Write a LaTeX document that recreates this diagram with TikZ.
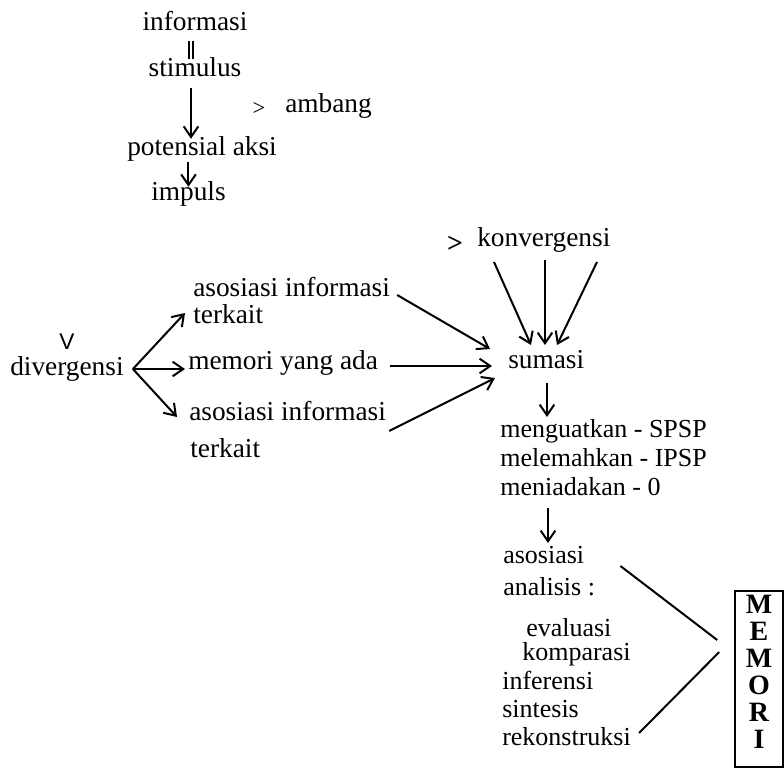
\documentclass[tikz,border=0pt]{standalone}
\usepackage{fontspec}
\setmainfont{Liberation Serif}
\newfontfamily\symfont{Liberation Sans}
\usetikzlibrary{positioning, calc, arrows.meta}

\begin{document}
\begin{tikzpicture}[x=0.75pt, y=-0.75pt]
    \tikzset{
        word/.style={inner sep=0pt, anchor=base west, font=\fontsize{20.5}{24}\selectfont},
        wordr/.style={inner sep=0pt, anchor=base west, font=\fontsize{19.5}{23}\selectfont},
        flow/.style={-{Straight Barb[length=8pt, width=11pt]}, line width=1.5pt},
        link/.style={line width=1.5pt},
        memori box/.style={
                draw, line width=1.2pt, inner sep=0pt,
                minimum width=36pt, minimum height=132pt, text depth=11pt,
                align=center, font=\fontsize{21}{20.25}\selectfont\bfseries
            }
    }
    \useasboundingbox (0,0) rectangle (784,770);

    % rantai stimulus
    \node[word, anchor=base] (informasi) at (195,31) {informasi};
    \node[word, anchor=base] (stimulus) at (195,77) {stimulus};
    \node[word] (potensial) at (127,156) {potensial aksi};
    \node[word] (impuls) at (151,200) {impuls};
    \node[inner sep=0pt, font=\fontsize{17}{17}\selectfont] (lebih) at (259,109) {>};
    \node[word] (ambang) at (285,113) {ambang};

    \draw[double, line width=1.2pt, double distance=1.5pt, shorten <=7pt, shorten >=-1pt]
    ([xshift=-3pt]informasi.south) -- ([xshift=-3pt]stimulus.north);
    \draw[flow, shorten <=8pt, shorten >=-1.5pt]
    ([xshift=-3pt]stimulus.south) -- ([xshift=-3pt]stimulus.south |- potensial.north);
    \draw[flow, shorten >=-4.5pt] (impuls.north |- potensial.south) -- (impuls.north);

    % divergensi
    \node[word] (divergensi) at (10,375) {divergensi};
    \node[inner sep=0pt, font=\symfont\fontsize{17}{17}\selectfont] (tanda) at (67,342) {V};
    \node[word] (asosA) at (193,296) {asosiasi informasi};
    \node[word] (terkaitA) at (193,323) {terkait};
    \node[word] (memori) at (188,369) {memori yang ada};
    \node[word] (asosB) at (189,420) {asosiasi informasi};
    \node[word] (terkaitB) at (190,457) {terkait};
    \coordinate (cabang) at ($(divergensi.base east)+(9,-6)$);
    \draw[flow] (cabang) -- ($(terkaitA.base west)+(-8,-10)$);
    \draw[flow] (cabang) -- ($(memori.base west)+(-3,0)$);
    \draw[flow] (cabang) -- ($(asosB.base west)+(-12,-3)$);

    % konvergensi dan sumasi
    \node[word] (sumasi) at (508,368) {sumasi};
    \node[word] (konvergensi) at (477,246) {konvergensi};
    \node[inner sep=0pt, font=\fontsize{21}{21}\selectfont\bfseries] (lebihK) at (455,244) {>};
    \draw[flow] ($(asosA.base east)+(7,-1)$) -- ($(sumasi.base west)+(-18,-19)$);
    \draw[flow] ($(memori.base east)+(12,-3)$) -- ($(sumasi.base west)+(-16,-2)$);
    \draw[flow] ($(asosB.base east)+(3,11)$) -- ($(sumasi.base west)+(-13,10)$);
    \draw[flow] ($(konvergensi.base west)+(17,16)$) -- ($(sumasi.base west)+(23,-23)$);
    \draw[flow] ($(konvergensi.base west)+(68,14)$) -- ($(sumasi.base west)+(37,-23)$);
    \draw[flow] ($(konvergensi.base west)+(120,16)$) -- ($(sumasi.base west)+(49,-23)$);

    % hasil sumasi
    \node[wordr] (kuat) at (500,437) {menguatkan - SPSP};
    \node[wordr] (lemah) at (500,466) {melemahkan - IPSP};
    \node[wordr] (tiada) at (500,495) {meniadakan - 0};
    \draw[flow] ($(sumasi.base west)+(39,15)$) -- ($(kuat.base west)+(47,-20)$);

    % asosiasi ke memori
    \node[wordr] (asosiasi) at (503,563) {asosiasi};
    \node[wordr] (analisis) at (503,595) {analisis :};
    \node[wordr] (evaluasi) at (526,636) {evaluasi};
    \node[wordr] (komparasi) at (522,660) {komparasi};
    \node[wordr] (inferensi) at (502,689) {inferensi};
    \node[wordr] (sintesis) at (502,717) {sintesis};
    \node[wordr] (rekonstruksi) at (502,745) {rekonstruksi};
    \draw[flow] ($(tiada.base west)+(48,13)$) -- ($(asosiasi.base west)+(45,-20)$);

    \node[memori box] (memoriBox) at (759,679) {M\\E\\M\\O\\R\\I};
    \coordinate (ujungA) at ($(memoriBox.west)+(-17,-39)$);
    \coordinate (ujungB) at ($(memoriBox.west)+(-15,-27)$);
    \draw[link] ($(asosiasi.base east)+(36,3)$) -- (ujungA);
    \draw[link] ($(rekonstruksi.base east)+(8,-12)$) -- (ujungB);
\end{tikzpicture}
\end{document}
